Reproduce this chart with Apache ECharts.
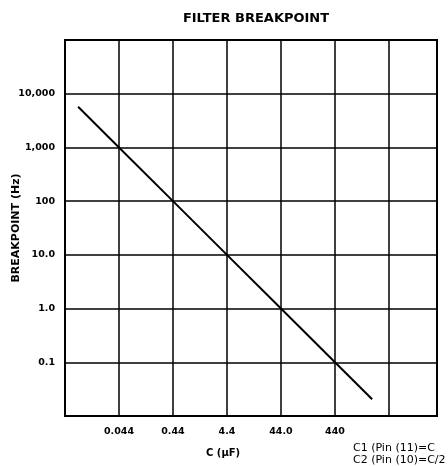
<!DOCTYPE html>
<html>
<head>
<meta charset="utf-8">
<script src="https://cdn.jsdelivr.net/npm/echarts@6/dist/echarts.min.js"></script>
<style>html,body{margin:0;padding:0;background:#fff}#chart{width:448px;height:466px}</style>
</head>
<body>
<div id="chart"></div>
<script>
// Data
const capValuesUF = [0.0077, 0.044, 0.44, 4.4, 44, 440, 2150];
const breakpointHz = [5700, 1000, 100, 10, 1, 0.1, 0.0205];
const xTickLabels = ['', '0.044', '0.44', '4.4', '44.0', '440', '', ''];
const yTickValues = [0.1, 1, 10, 100, 1000, 10000];
const yTickLabels = ['0.1', '1.0', '10.0', '100', '1,000', '10,000'];
const xBaseUF = 0.0044;   // capacitance at the left edge of the grid
const xDecades = 6.89;    // decades spanned by the x axis

const chart = echarts.init(document.getElementById('chart'));
const seriesData = capValuesUF.map((c, i) => [Math.log10(c / xBaseUF), breakpointHz[i]]);

chart.setOption({
  animation: false,
  backgroundColor: '#fff',
  textStyle: { fontFamily: 'DejaVu Sans' },
  title: {
    text: 'FILTER BREAKPOINT',
    left: 251, top: 7, textAlign: 'center',
    textStyle: { fontFamily: 'DejaVu Sans', fontWeight: 'bold', fontSize: 13, color: '#000' }
  },
  grid: { left: 65, right: 11, top: 40, bottom: 50, show: true, borderColor: '#000', borderWidth: 2,
          containLabel: false, outerBoundsMode: 'none' },
  xAxis: {
    type: 'value', min: 0, max: xDecades, interval: 1,
    axisLine: { show: false }, axisTick: { show: false },
    splitLine: { show: true, lineStyle: { color: '#000', width: 1.5 } },
    axisLabel: {
      margin: 11, color: '#000', fontWeight: 'bold', fontSize: 9.5, fontFamily: 'DejaVu Sans',
      formatter: v => xTickLabels[Math.round(v)] || ''
    }
  },
  yAxis: {
    type: 'log', logBase: 10, min: 0.01, max: 100000,
    name: 'BREAKPOINT (Hz)', nameLocation: 'middle', nameGap: 43, nameRotate: 90,
    nameMoveOverlap: false,
    nameTextStyle: { color: '#000', fontWeight: 'bold', fontSize: 11, fontFamily: 'DejaVu Sans' },
    axisLine: { show: false }, axisTick: { show: false },
    splitLine: { show: true, lineStyle: { color: '#000', width: 1.5 } },
    axisLabel: {
      margin: 10, color: '#000', fontWeight: 'bold', fontSize: 9.5, fontFamily: 'DejaVu Sans',
      formatter: v => {
        const i = yTickValues.findIndex(t => Math.abs(Math.log10(t) - Math.log10(v)) < 0.01);
        return i >= 0 ? yTickLabels[i] : '';
      }
    }
  },
  series: [{
    type: 'line', data: seriesData, symbol: 'none',
    lineStyle: { color: '#000', width: 2 }
  }],
  graphic: [
    { type: 'text', left: 206, top: 448, style: { text: 'C (µF)', fill: '#000', font: 'bold 10px "DejaVu Sans"' } },
    { type: 'text', left: 353, top: 443, style: { text: 'C1 (Pin (11)=C', fill: '#000', font: '11px "DejaVu Sans"' } },
    { type: 'text', left: 353, top: 455, style: { text: 'C2 (Pin (10)=C/2', fill: '#000', font: '11px "DejaVu Sans"' } }
  ]
});
</script>
</body>
</html>
